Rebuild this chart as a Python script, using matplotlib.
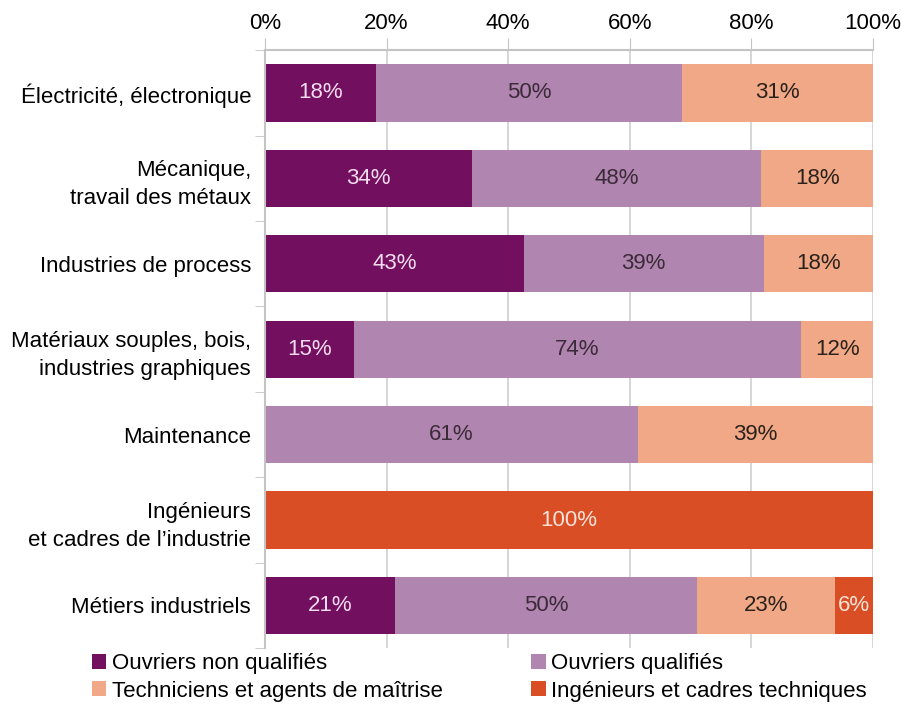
import numpy as np
import matplotlib.pyplot as plt

categories = ['Électricité, électronique', 'Mécanique,\ntravail des métaux',
              'Industries de process', 'Matériaux souples, bois,\nindustries graphiques',
              'Maintenance', 'Ingénieurs\net cadres de l\u2019industrie', 'Métiers industriels']
series = ['Ouvriers non qualifiés', 'Ouvriers qualifiés',
          'Techniciens et agents de maîtrise', 'Ingénieurs et cadres techniques']
non_qualifies = [18.3, 34.0, 42.6, 14.6, 0, 0, 21.4]
qualifies = [50.3, 47.6, 39.4, 73.6, 61.3, 0, 49.6]
techniciens = [31.4, 18.4, 18.0, 11.8, 38.7, 0, 22.8]
ingenieurs = [0, 0, 0, 0, 0, 100, 6.2]
colors = ['#730f5f', '#b085b0', '#f0a886', '#d94e24']
text_colors = ['#f3dcef', '#3b2a38', '#2b211c', '#fbe3d8']

plt.rcParams['font.family'] = ['Liberation Sans', 'DejaVu Sans']
fs = 16

fig = plt.figure(figsize=(9.01, 7.17), dpi=100)
ax = fig.add_axes([0.294, 0.096, 0.675, 0.834])

y = np.arange(len(categories))
left = np.zeros(len(categories))
handles = []
for vals, name, col, tcol in zip([non_qualifies, qualifies, techniciens, ingenieurs],
                                 series, colors, text_colors):
    vals = np.array(vals)
    h = ax.barh(y, vals, left=left, height=0.67, color=col, label=name, zorder=2)
    handles.append(h)
    for yi, (l, v) in enumerate(zip(left, vals)):
        if v > 0:
            ax.text(l + v / 2, yi, f'{round(v)}%', ha='center', va='center',
                    color=tcol, fontsize=fs, zorder=3)
    left += vals

ax.set_xlim(0, 100)
ax.set_ylim(len(categories) - 0.5, -0.5)
ax.xaxis.tick_top()
ax.set_xticks(np.arange(0, 101, 20))
ax.set_xticklabels([f'{v}%' for v in range(0, 101, 20)], fontsize=fs)
ax.tick_params(axis='x', which='major', length=9, color='#c4c4c4', pad=3)
ax.grid(axis='x', color='#cfcfcf', linewidth=1.2, zorder=0)

ax.set_yticks(y)
ax.set_yticklabels(categories, fontsize=fs, linespacing=1.45)
ax.set_yticks(np.arange(-0.5, len(categories)), minor=True)
ax.tick_params(axis='y', which='major', length=0, pad=10)
ax.tick_params(axis='y', which='minor', length=7, color='#c4c4c4')

for s in ['right', 'bottom']:
    ax.spines[s].set_visible(False)
for s in ['left', 'top']:
    ax.spines[s].set_color('#c4c4c4')
    ax.spines[s].set_linewidth(1.5)

order = [0, 2, 1, 3]
ax.legend([handles[i] for i in order], [series[i] for i in order],
          loc='upper left', bbox_to_anchor=(-0.285, -0.008), ncol=2, frameon=False,
          fontsize=fs, handlelength=0.65, handleheight=0.65, handletextpad=0.25,
          columnspacing=4.0, labelspacing=0.3, borderpad=0, borderaxespad=0)

fig.savefig('out.png', dpi=100)
